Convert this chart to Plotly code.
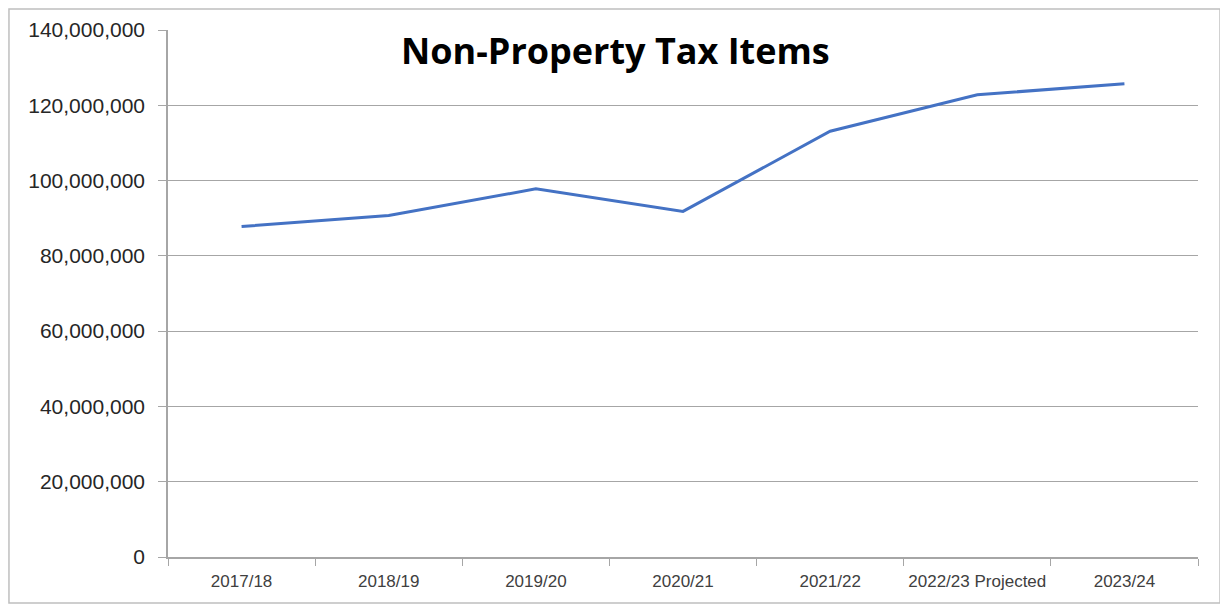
import plotly.graph_objects as go

years = ["2017/18", "2018/19", "2019/20", "2020/21", "2021/22", "2022/23 Projected", "2023/24"]
amounts = [87800000, 90700000, 97800000, 91800000, 113100000, 122800000, 125700000]
y_ticks = [0, 20000000, 40000000, 60000000, 80000000, 100000000, 120000000, 140000000]

fig = go.Figure()
fig.add_trace(go.Scatter(x=years, y=amounts, mode="lines",
                         line=dict(color="#4472C4", width=3)))

# chart title placed inside the plot area like the original
fig.add_annotation(text="<b>Non-Property Tax Items</b>", xref="paper", yref="paper",
                   x=0.434, y=0.962, xanchor="center", yanchor="middle", showarrow=False,
                   font=dict(family="Open Sans", size=36, color="black"))

# outer chart border
fig.add_shape(type="rect", xref="paper", yref="paper",
              x0=-0.1544, x1=1.0214, y0=-0.0873, y1=1.04,
              line=dict(color="#BFBFBF", width=1.5), layer="below")

# page has an 8px body margin, so margins are shifted to compensate
fig.update_layout(
    width=1228, height=605,
    margin=dict(l=160, r=38, t=22, b=56),
    paper_bgcolor="white", plot_bgcolor="white",
    showlegend=False,
    font=dict(family="Liberation Sans", color="#404040"),
)
fig.update_xaxes(type="category", range=[-0.5, len(years) - 0.5], tickson="boundaries",
                 ticks="outside", ticklen=7, automargin=False, ticklabelstandoff=8,
                 tickcolor="#A6A6A6", showgrid=False, showline=True, linecolor="#A6A6A6",
                 linewidth=1.5, tickfont=dict(size=17, color="#404040"))
fig.update_yaxes(range=[0, 140000000], tickvals=y_ticks, tickformat=",",
                 ticks="outside", ticklen=8, tickcolor="#A6A6A6", automargin=False,
                 ticklabelstandoff=9,
                 showgrid=True, gridcolor="#A6A6A6", gridwidth=1,
                 showline=True, linecolor="#A6A6A6", linewidth=1.5,
                 zeroline=False, tickfont=dict(size=21, color="#262626"))

fig.write_html("out.html")
